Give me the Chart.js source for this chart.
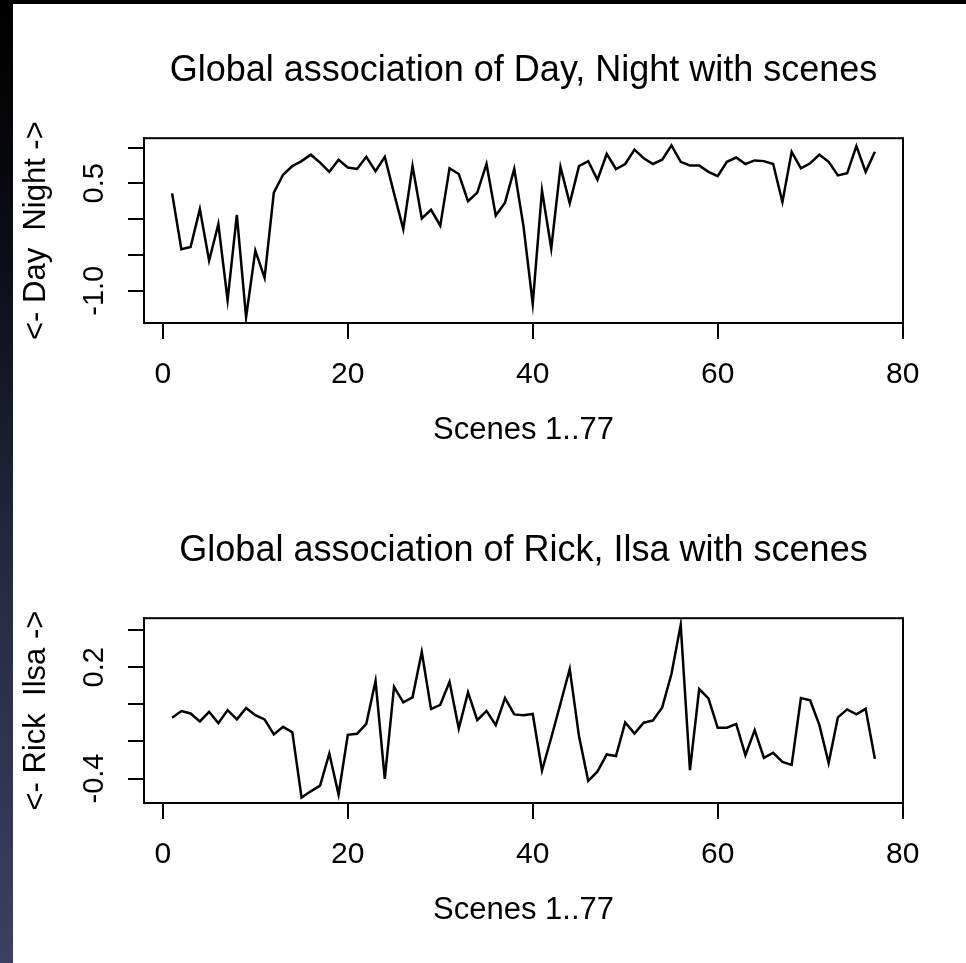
<!DOCTYPE html>
<html>
<head>
<meta charset="utf-8">
<script src="https://cdn.jsdelivr.net/npm/chart.js@4.4.1/dist/chart.umd.min.js"></script>
<style>
  html, body { margin: 0; padding: 0; }
  body { width: 966px; height: 963px; background: #fff; position: relative; overflow: hidden; }
  canvas { position: absolute; left: 0; }
  #c1 { top: 0; }
  #c2 { top: 480px; }
  #edgeTop { position: absolute; left: 0; top: 0; width: 966px; height: 4px; background: #000; }
  #edgeLeft { position: absolute; left: 0; top: 0; width: 13px; height: 963px;
    background: linear-gradient(#000 0%, #0b0c16 25%, #262a42 60%, #3b4060 100%); }
</style>
</head>
<body>
<canvas id="c1" width="966" height="481"></canvas>
<canvas id="c2" width="966" height="481"></canvas>
<div id="edgeTop"></div>
<div id="edgeLeft"></div>
<script>
// scene numbers on the x axis
const scenes = [1,2,3,4,5,6,7,8,9,10,11,12,13,14,15,16,17,18,19,20,
  21,22,23,24,25,26,27,28,29,30,31,32,33,34,35,36,37,38,39,40,
  41,42,43,44,45,46,47,48,49,50,51,52,53,54,55,56,57,58,59,60,
  61,62,63,64,65,66,67,68,69,70,71,72,73,74,75,76,77];

// Day / Night association per scene
const dayNight = [0.36,-0.42,-0.39,0.14,-0.58,-0.07,-1.13,0.06,-1.37,-0.44,
  -0.82,0.37,0.62,0.74,0.81,0.90,0.79,0.66,0.83,0.72,
  0.70,0.87,0.67,0.87,0.36,-0.14,0.74,0.01,0.13,-0.09,
  0.71,0.63,0.25,0.37,0.77,0.05,0.23,0.70,-0.10,-1.18,
  0.40,-0.41,0.73,0.22,0.74,0.81,0.55,0.91,0.70,0.77,
  0.97,0.85,0.77,0.83,1.03,0.80,0.75,0.75,0.66,0.60,
  0.80,0.86,0.77,0.82,0.81,0.77,0.24,0.94,0.71,0.78,
  0.90,0.80,0.61,0.64,1.02,0.66,0.94];

// Rick / Ilsa association per scene
const rickIlsa = [-0.072,-0.036,-0.049,-0.092,-0.040,-0.101,-0.031,-0.081,-0.020,-0.058,
  -0.081,-0.162,-0.121,-0.150,-0.503,-0.469,-0.438,-0.265,-0.486,-0.164,
  -0.159,-0.105,0.126,-0.402,0.094,0.011,0.038,0.283,-0.025,-0.002,
  0.122,-0.130,0.065,-0.085,-0.035,-0.112,0.034,-0.054,-0.059,-0.052,
  -0.357,-0.180,0.005,0.191,-0.171,-0.413,-0.362,-0.270,-0.279,-0.097,
  -0.157,-0.099,-0.087,-0.016,0.164,0.429,-0.355,0.083,0.032,-0.126,
  -0.126,-0.105,-0.274,-0.139,-0.289,-0.261,-0.310,-0.326,0.034,0.022,
  -0.112,-0.316,-0.070,-0.027,-0.054,-0.024,-0.294];

const xTicks = [0, 20, 40, 60, 80];
const dayNightTicks = [-1.0, -0.5, 0, 0.5, 1.0];
const dayNightLabeled = [-1.0, 0.5];
const rickIlsaTicks = [-0.4, -0.2, 0, 0.2, 0.4];
const rickIlsaLabeled = [-0.4, 0.2];

const FONT = "'Liberation Sans', Arial, Helvetica, sans-serif";

// draws the closed box around the plot area, like R's box()
const frame = {
    id: 'frame',
    afterDatasetsDraw(chart) {
        const { ctx, chartArea: a } = chart;
        ctx.save();
        ctx.strokeStyle = '#000';
        ctx.lineWidth = 2;
        ctx.strokeRect(a.left, a.top, a.right - a.left, a.bottom - a.top);
        ctx.restore();
    }
};

function makePanel(id, title, yTitle, values, yMin, yMax, yTicks, yLabeled) {
    const tickGrid = { display: true, drawOnChartArea: false, drawTicks: true,
        tickLength: 16, lineWidth: 2, tickWidth: 2, tickColor: '#000', color: '#000' };

    return new Chart(document.getElementById(id), {
        type: 'line',
        data: {
            datasets: [{
                data: scenes.map((s, i) => ({ x: s, y: values[i] })),
                borderColor: '#000',
                borderWidth: 2.5,
                pointRadius: 0,
                tension: 0,
                fill: false
            }]
        },
        options: {
            responsive: false,
            animation: false,
            layout: { padding: { left: 14, right: 63, top: 0, bottom: 32 } },
            plugins: {
                legend: { display: false },
                tooltip: { enabled: false },
                title: {
                    display: true, text: title, fullSize: false, color: '#000',
                    font: { family: FONT, size: 36, weight: 'normal' },
                    padding: { top: 49, bottom: 46 }
                }
            },
            scales: {
                x: {
                    type: 'linear', min: -2.04, max: 80.04,
                    afterBuildTicks: s => { s.ticks = xTicks.map(v => ({ value: v })); },
                    afterFit: s => { s.height = 126; s.paddingLeft = 0; s.paddingRight = 0; },
                    grid: tickGrid,
                    border: { display: true, color: '#000', width: 2 },
                    ticks: { color: '#000', font: { family: FONT, size: 30 }, padding: 18,
                        maxRotation: 0, autoSkip: false },
                    title: { display: true, text: 'Scenes 1..77', color: '#000',
                        font: { family: FONT, size: 31 }, padding: 0 }
                },
                y: {
                    min: yMin, max: yMax,
                    afterBuildTicks: s => { s.ticks = yTicks.map(v => ({ value: v })); },
                    afterFit: s => { s.width = 130; s.paddingTop = 0; s.paddingBottom = 0; },
                    grid: tickGrid,
                    border: { display: true, color: '#000', width: 2 },
                    ticks: {
                        color: '#000', font: { family: FONT, size: 29 }, padding: 8,
                        minRotation: 90, maxRotation: 90, crossAlign: 'center', autoSkip: false,
                        callback: v => yLabeled.includes(v) ? v.toFixed(1) : ''
                    },
                    title: { display: true, text: yTitle, color: '#000',
                        font: { family: FONT, size: 31 }, padding: { top: 4, bottom: 0 } }
                }
            }
        },
        plugins: [frame]
    });
}

makePanel('c1', 'Global association of Day, Night with scenes', '<- Day  Night ->',
    dayNight, -1.45, 1.13, dayNightTicks, dayNightLabeled);
makePanel('c2', 'Global association of Rick, Ilsa with scenes', '<- Rick  Ilsa ->',
    rickIlsa, -0.532, 0.465, rickIlsaTicks, rickIlsaLabeled);
</script>
</body>
</html>
